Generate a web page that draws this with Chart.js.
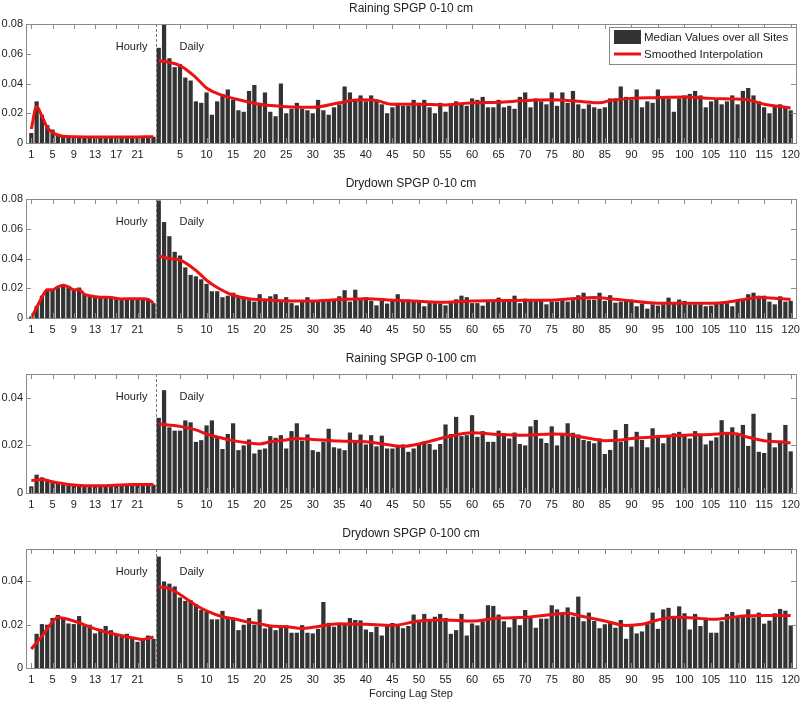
<!DOCTYPE html>
<html>
<head>
<meta charset="utf-8">
<script src="https://cdn.jsdelivr.net/npm/chart.js@4.4.0/dist/chart.umd.min.js"></script>
<style>
body { margin: 0; background: #fff; }
#wrap { position: relative; width: 800px; height: 704px; }
canvas { position: absolute; left: 0; }
</style>
</head>
<body>
<div id="wrap">
  <canvas id="c1" width="800" height="175" style="top:0px"></canvas>
  <canvas id="c2" width="800" height="175" style="top:175px"></canvas>
  <canvas id="c3" width="800" height="175" style="top:350px"></canvas>
  <canvas id="c4" width="800" height="179" style="top:525px"></canvas>
</div>
<script>
// tick labels
const hourTicks = [1, 5, 9, 13, 17, 21];
const dayTicks = [5, 10, 15, 20, 25, 30, 35, 40, 45, 50, 55, 60, 65, 70, 75, 80, 85, 90, 95, 100, 105, 110, 115, 120];
const yTicks08 = [0, 0.02, 0.04, 0.06, 0.08];
const yTicks04 = [0, 0.02, 0.04];

// Raining SPGP 0-10 cm
const rain10Hourly = [0.0067, 0.028, 0.019, 0.012, 0.009, 0.006, 0.0045, 0.0042, 0.004, 0.0042, 0.004, 0.0042,
  0.004, 0.0038, 0.0042, 0.004, 0.0042, 0.004, 0.0038, 0.0042, 0.004, 0.0038, 0.004, 0.0042];
const rain10Daily = [0.064, 0.080, 0.057, 0.051, 0.053, 0.044, 0.042, 0.028, 0.027, 0.034, 0.019, 0.028, 0.033, 0.036, 0.029,
  0.022, 0.021, 0.035, 0.039, 0.027, 0.034, 0.021, 0.018, 0.040, 0.020, 0.023, 0.027, 0.023, 0.022, 0.020,
  0.029, 0.022, 0.019, 0.024, 0.026, 0.038, 0.034, 0.029, 0.032, 0.028, 0.032, 0.029, 0.026, 0.020, 0.024,
  0.027, 0.025, 0.025, 0.029, 0.027, 0.029, 0.024, 0.020, 0.027, 0.021, 0.025, 0.028, 0.027, 0.025, 0.030,
  0.029, 0.031, 0.024, 0.024, 0.029, 0.024, 0.025, 0.023, 0.031, 0.034, 0.024, 0.030, 0.028, 0.026, 0.034,
  0.025, 0.034, 0.027, 0.035, 0.026, 0.023, 0.026, 0.024, 0.023, 0.024, 0.030, 0.030, 0.038, 0.031, 0.029,
  0.036, 0.024, 0.028, 0.027, 0.036, 0.031, 0.030, 0.021, 0.030, 0.032, 0.033, 0.035, 0.032, 0.024, 0.028,
  0.030, 0.026, 0.028, 0.032, 0.026, 0.035, 0.037, 0.032, 0.028, 0.024, 0.020, 0.025, 0.026, 0.024, 0.022];
const rain10SmoothHourSteps = [1, 2, 3, 4, 5, 6, 7, 9, 12, 15, 18, 21, 24];
const rain10SmoothHour = [0.0094, 0.0245, 0.018, 0.0105, 0.007, 0.0054, 0.0045, 0.0042, 0.004, 0.0041, 0.004, 0.0041, 0.0042];
const rain10SmoothDaySteps = [1, 5, 8, 10, 13, 15, 20, 25, 30, 35, 39, 42, 45, 50, 55, 60, 65, 70, 75, 80, 84, 86, 90, 95, 100, 105, 110, 112, 115, 118, 120];
const rain10SmoothDay = [0.0555, 0.052, 0.044, 0.037, 0.032, 0.030, 0.026, 0.0244, 0.024, 0.027, 0.029, 0.0285, 0.026, 0.026, 0.0256, 0.027,
  0.0274, 0.0285, 0.029, 0.028, 0.027, 0.0285, 0.030, 0.0305, 0.031, 0.030, 0.0295, 0.029, 0.026, 0.0245, 0.0236];

// Drydown SPGP 0-10 cm
const dry10Hourly = [0.001, 0.008, 0.015, 0.0195, 0.019, 0.021, 0.022, 0.021, 0.019, 0.0205, 0.016, 0.015,
  0.0146, 0.014, 0.014, 0.0137, 0.0137, 0.0126, 0.0128, 0.013, 0.013, 0.0133, 0.0128, 0.010];
const dry10Daily = [0.079, 0.0645, 0.055, 0.0445, 0.042, 0.034, 0.029, 0.028, 0.026, 0.023, 0.018, 0.018, 0.014, 0.015, 0.017,
  0.0137, 0.0135, 0.012, 0.011, 0.016, 0.012, 0.0146, 0.016, 0.0115, 0.014, 0.010, 0.0085, 0.0115, 0.014, 0.0115,
  0.011, 0.011, 0.0115, 0.0128, 0.0146, 0.0187, 0.011, 0.019, 0.0128, 0.014, 0.0115, 0.0085, 0.0115, 0.0097, 0.0124,
  0.016, 0.0124, 0.0124, 0.011, 0.012, 0.0079, 0.010, 0.010, 0.0097, 0.0085, 0.0115, 0.0126, 0.015, 0.014, 0.010,
  0.010, 0.0083, 0.011, 0.011, 0.0137, 0.0124, 0.011, 0.015, 0.010, 0.013, 0.0115, 0.0115, 0.0115, 0.0092, 0.011,
  0.011, 0.012, 0.011, 0.012, 0.0153, 0.017, 0.0124, 0.0124, 0.017, 0.0115, 0.0153, 0.0103, 0.011, 0.0124, 0.0124,
  0.0079, 0.0097, 0.0063, 0.0092, 0.0083, 0.0092, 0.0137, 0.010, 0.0124, 0.0115, 0.0092, 0.0092, 0.0092, 0.0079, 0.0083,
  0.010, 0.010, 0.010, 0.0079, 0.0115, 0.0128, 0.016, 0.017, 0.015, 0.015, 0.011, 0.0092, 0.0146, 0.011, 0.0115];
const dry10SmoothHourSteps = [1, 2, 3, 4, 5, 6, 7, 8, 9, 10, 11, 12, 14, 16, 18, 20, 22, 23, 24];
const dry10SmoothHour = [0.0, 0.007, 0.014, 0.019, 0.019, 0.021, 0.022, 0.021, 0.019, 0.019, 0.016, 0.015, 0.014, 0.0138, 0.0128, 0.013, 0.013, 0.0125, 0.010];
const dry10SmoothDaySteps = [1, 3, 5, 8, 10, 12, 15, 18, 20, 25, 30, 35, 40, 45, 50, 55, 60, 65, 70, 75, 80, 83, 86, 90, 95, 100, 105, 108, 112, 114, 117, 120];
const dry10SmoothDay = [0.0416, 0.040, 0.039, 0.032, 0.0254, 0.0205, 0.0153, 0.013, 0.0124, 0.0115, 0.0115, 0.0124, 0.013, 0.012, 0.0112, 0.0106,
  0.0115, 0.0117, 0.012, 0.012, 0.0133, 0.0137, 0.013, 0.0115, 0.010, 0.010, 0.010, 0.0106, 0.013, 0.0137, 0.0133, 0.0124];

// Raining SPGP 0-100 cm
const rain100Hourly = [0.0028, 0.0077, 0.0066, 0.0052, 0.0042, 0.0038, 0.0035, 0.0032, 0.003, 0.0028, 0.0028, 0.0028,
  0.0028, 0.0028, 0.003, 0.003, 0.0033, 0.0035, 0.0035, 0.0035, 0.0035, 0.0035, 0.0035, 0.0035];
const rain100Daily = [0.0316, 0.0432, 0.0276, 0.0262, 0.0262, 0.0305, 0.0297, 0.0215, 0.0222, 0.0284, 0.0305, 0.0239, 0.0185, 0.0248, 0.0293,
  0.018, 0.020, 0.0225, 0.0166, 0.0182, 0.0187, 0.0239, 0.0232, 0.0243, 0.0187, 0.026, 0.0293, 0.022, 0.0246, 0.018,
  0.0173, 0.0215, 0.027, 0.0192, 0.0187, 0.018, 0.0254, 0.0218, 0.0246, 0.0204, 0.0243, 0.0196, 0.0241, 0.0187, 0.0187,
  0.0196, 0.0204, 0.0173, 0.0187, 0.0204, 0.0215, 0.0206, 0.0182, 0.0206, 0.0288, 0.0248, 0.032, 0.0239, 0.0243, 0.0327,
  0.0236, 0.026, 0.0215, 0.0215, 0.0262, 0.0251, 0.0229, 0.0254, 0.0206, 0.020, 0.028, 0.0307, 0.0229, 0.021, 0.028,
  0.020, 0.0251, 0.0293, 0.0253, 0.0246, 0.0223, 0.0218, 0.0209, 0.0229, 0.0164, 0.0181, 0.0265, 0.0215, 0.029, 0.0195,
  0.0257, 0.0223, 0.0192, 0.0272, 0.0232, 0.0209, 0.0239, 0.0251, 0.0257, 0.0239, 0.0229, 0.026, 0.0246, 0.0204, 0.022,
  0.0234, 0.0306, 0.0248, 0.0276, 0.0251, 0.0286, 0.0198, 0.0333, 0.0173, 0.0168, 0.0253, 0.0192, 0.0215, 0.0286, 0.0175];
const rain100SmoothHourSteps = [1, 3, 5, 8, 12, 16, 20, 24];
const rain100SmoothHour = [0.0052, 0.0057, 0.0047, 0.0036, 0.003, 0.0032, 0.0036, 0.0036];
const rain100SmoothDaySteps = [1, 5, 8, 10, 13, 15, 18, 20, 22, 25, 27, 30, 35, 40, 45, 47, 50, 55, 60, 65, 70, 75, 78, 80, 83, 85, 88, 90, 95, 100, 105, 108, 110, 112, 115, 118, 120];
const rain100SmoothDay = [0.029, 0.028, 0.0265, 0.0248, 0.023, 0.022, 0.021, 0.0206, 0.0215, 0.0223, 0.0229, 0.0225, 0.0218, 0.0215, 0.020, 0.0196,
  0.0206, 0.0234, 0.0253, 0.0246, 0.0243, 0.0248, 0.0246, 0.0237, 0.0226, 0.022, 0.0223, 0.0229, 0.0237, 0.0243, 0.0246, 0.0251,
  0.0248, 0.0234, 0.022, 0.0215, 0.021];

// Drydown SPGP 0-100 cm
const dry100Hourly = [0.0, 0.0158, 0.0203, 0.020, 0.0231, 0.0245, 0.0233, 0.0206, 0.0203, 0.024, 0.0194, 0.020,
  0.016, 0.0181, 0.0194, 0.0175, 0.0155, 0.0143, 0.0158, 0.014, 0.0121, 0.0132, 0.015, 0.0135];
const dry100Daily = [0.0515, 0.040, 0.039, 0.0377, 0.0326, 0.031, 0.0313, 0.0295, 0.0268, 0.0259, 0.0225, 0.0225, 0.0264, 0.0233, 0.0233,
  0.0175, 0.020, 0.0231, 0.020, 0.0271, 0.0183, 0.019, 0.0175, 0.0194, 0.0197, 0.0163, 0.0163, 0.0198, 0.0163, 0.016,
  0.0181, 0.0305, 0.0209, 0.0191, 0.0206, 0.0206, 0.0231, 0.0222, 0.022, 0.0178, 0.0166, 0.0191, 0.015, 0.0197, 0.0208,
  0.0197, 0.0184, 0.0194, 0.0247, 0.0222, 0.025, 0.0222, 0.0237, 0.025, 0.0231, 0.0158, 0.0175, 0.025, 0.015, 0.0206,
  0.0197, 0.0216, 0.029, 0.0287, 0.0247, 0.0216, 0.0188, 0.0233, 0.0198, 0.0268, 0.0237, 0.0186, 0.0228, 0.0228, 0.029,
  0.0271, 0.0248, 0.028, 0.0237, 0.033, 0.0216, 0.0256, 0.0217, 0.0184, 0.0202, 0.0216, 0.0186, 0.0222, 0.0135, 0.0202,
  0.016, 0.0169, 0.0203, 0.0256, 0.0181, 0.0271, 0.0278, 0.0237, 0.0285, 0.0253, 0.0178, 0.025, 0.0194, 0.0233, 0.0163,
  0.0163, 0.0216, 0.025, 0.0259, 0.0237, 0.0237, 0.0271, 0.0233, 0.0256, 0.0205, 0.0219, 0.0253, 0.0273, 0.0265, 0.0197];
const dry100SmoothHourSteps = [1, 3, 5, 6, 9, 13, 17, 21, 22, 24];
const dry100SmoothHour = [0.0088, 0.0147, 0.0214, 0.0233, 0.0217, 0.0181, 0.0155, 0.0135, 0.0132, 0.0144];
const dry100SmoothDaySteps = [1, 3, 5, 8, 10, 13, 15, 18, 20, 22, 25, 28, 30, 35, 40, 45, 50, 55, 60, 65, 70, 75, 78, 80, 85, 89, 92, 95, 98, 102, 105, 108, 111, 115, 118, 120];
const dry100SmoothDay = [0.0375, 0.0367, 0.034, 0.029, 0.0264, 0.0237, 0.0228, 0.0212, 0.0205, 0.0194, 0.0191, 0.0183, 0.0188, 0.0205, 0.0202, 0.0197,
  0.0217, 0.0222, 0.0217, 0.0231, 0.0234, 0.0247, 0.0253, 0.0243, 0.0217, 0.0197, 0.0202, 0.0222, 0.0234, 0.0231, 0.0225, 0.0231,
  0.024, 0.0243, 0.0243, 0.0243];

const HOURS = 24;
const BAR_COLOR = '#333333';
const RED = 'rgb(236, 18, 18)';
const AXIS_COLOR = '#8a8a8a';
const TEXT_COLOR = '#222';

Chart.defaults.font.family = '"Liberation Sans", Arial, Helvetica, sans-serif';
Chart.defaults.color = TEXT_COLOR;

// box, inward ticks, hourly/daily divider, title and legend
const framePlugin = {
  id: 'frame',
  afterDraw(chart, args, opts) {
    const ctx = chart.ctx;
    const a = chart.chartArea;
    const xs = chart.scales.x, ys = chart.scales.y;
    ctx.save();

    // divider between hourly and daily steps
    const sx = Math.round(xs.getPixelForValue(HOURS + 0.4)) + 0.5;
    ctx.strokeStyle = '#777';
    ctx.lineWidth = 1;
    ctx.setLineDash([3, 2]);
    ctx.beginPath();
    ctx.moveTo(sx, a.top);
    ctx.lineTo(sx, a.bottom);
    ctx.stroke();
    ctx.setLineDash([]);

    // box
    ctx.strokeStyle = AXIS_COLOR;
    ctx.strokeRect(Math.round(a.left) + 0.5, Math.round(a.top) + 0.5, Math.round(a.right - a.left), Math.round(a.bottom - a.top));

    // inward ticks
    ctx.beginPath();
    xs.ticks.forEach(t => {
      const px = Math.round(xs.getPixelForValue(t.value)) + 0.5;
      ctx.moveTo(px, a.bottom); ctx.lineTo(px, a.bottom - 5);
      ctx.moveTo(px, a.top); ctx.lineTo(px, a.top + 5);
    });
    ys.ticks.forEach(t => {
      const py = Math.round(ys.getPixelForValue(t.value)) + 0.5;
      ctx.moveTo(a.left, py); ctx.lineTo(a.left + 5, py);
      ctx.moveTo(a.right, py); ctx.lineTo(a.right - 5, py);
    });
    ctx.stroke();

    // labels
    ctx.fillStyle = TEXT_COLOR;
    ctx.font = '11px "Liberation Sans", Arial, sans-serif';
    ctx.textBaseline = 'middle';
    ctx.textAlign = 'right';
    ctx.fillText('Hourly', sx - 9, a.top + 23);
    ctx.textAlign = 'left';
    ctx.fillText('Daily', sx + 23, a.top + 23);

    ctx.font = '12px "Liberation Sans", Arial, sans-serif';
    ctx.textAlign = 'center';
    ctx.fillText(opts.title, (a.left + a.right) / 2, 9);

    if (opts.legend) {
      const lx = 609, ly = a.top + 3, lw = 187, lh = 37;
      ctx.fillStyle = '#fff';
      ctx.fillRect(lx, ly, lw, lh);
      ctx.strokeStyle = AXIS_COLOR;
      ctx.strokeRect(lx + 0.5, ly + 0.5, lw, lh);
      ctx.fillStyle = BAR_COLOR;
      ctx.fillRect(lx + 5, ly + 3, 27, 14);
      ctx.strokeStyle = RED;
      ctx.lineWidth = 3;
      ctx.beginPath();
      ctx.moveTo(lx + 5, ly + 27);
      ctx.lineTo(lx + 32, ly + 27);
      ctx.stroke();
      ctx.fillStyle = TEXT_COLOR;
      ctx.font = '11.5px "Liberation Sans", Arial, sans-serif';
      ctx.textAlign = 'left';
      ctx.fillText('Median Values over all Sites', lx + 35, ly + 11);
      ctx.fillText('Smoothed Interpolation', lx + 35, ly + 28);
    }
    ctx.restore();
  }
};

function makePanel(id, p) {
  const bars = p.hourly.map((v, i) => ({ x: i + 1, y: v }))
    .concat(p.daily.map((v, i) => ({ x: HOURS + i + 1, y: v })));
  const lineHour = p.smoothHourSteps.map((s, i) => ({ x: s, y: p.smoothHour[i] }));
  const lineDay = p.smoothDaySteps.map((s, i) => ({ x: HOURS + s, y: p.smoothDay[i] }));
  const lineStyle = {
    type: 'line', borderColor: RED, borderWidth: 3, pointRadius: 0,
    cubicInterpolationMode: 'monotone', order: 0, clip: 0
  };

  new Chart(document.getElementById(id), {
    type: 'bar',
    data: {
      datasets: [
        Object.assign({ label: 'Smoothed Interpolation', data: lineHour }, lineStyle),
        Object.assign({ label: 'Smoothed Interpolation', data: lineDay }, lineStyle),
        { label: 'Median Values over all Sites', data: bars, backgroundColor: BAR_COLOR,
          barPercentage: 0.8, categoryPercentage: 1, order: 1, clip: 0 }
      ]
    },
    options: {
      responsive: false,
      devicePixelRatio: 1,
      animation: false,
      layout: { padding: { top: 24, right: 4, left: 0, bottom: 0 } },
      plugins: {
        legend: { display: false },
        tooltip: { enabled: false },
        frame: { title: p.title, legend: p.legend }
      },
      scales: {
        x: {
          type: 'linear', min: 0, max: 145, offset: false,
          grid: { display: false, drawTicks: false, offset: false }, border: { display: false },
          afterBuildTicks: s => {
            s.ticks = hourTicks.map(v => ({ value: v })).concat(dayTicks.map(v => ({ value: HOURS + v })));
          },
          afterFit: s => { s.height = p.xTitle ? 36 : 32; s.paddingLeft = 0; s.paddingRight = 0; },
          ticks: {
            autoSkip: false, maxRotation: 0, minRotation: 0, padding: 5,
            font: { size: 11 }, color: TEXT_COLOR,
            callback: v => String(v > HOURS ? v - HOURS : v)
          },
          title: { display: !!p.xTitle, text: p.xTitle || '', font: { size: 11 }, color: TEXT_COLOR, padding: { top: 0, bottom: 3 } }
        },
        y: {
          min: 0, max: p.ymax,
          grid: { display: false, drawTicks: false }, border: { display: false },
          afterBuildTicks: s => { s.ticks = p.yTicks.map(v => ({ value: v })); },
          afterFit: s => { s.width = 26; s.paddingTop = 0; s.paddingBottom = 0; },
          ticks: {
            padding: 3, font: { size: 11 }, color: TEXT_COLOR,
            callback: v => v === 0 ? '0' : v.toFixed(2)
          }
        }
      }
    },
    plugins: [framePlugin]
  });
}

makePanel('c1', {
  title: 'Raining SPGP 0-10 cm', ymax: 0.08, yTicks: yTicks08, legend: true,
  hourly: rain10Hourly, daily: rain10Daily,
  smoothHourSteps: rain10SmoothHourSteps, smoothHour: rain10SmoothHour,
  smoothDaySteps: rain10SmoothDaySteps, smoothDay: rain10SmoothDay
});
makePanel('c2', {
  title: 'Drydown SPGP 0-10 cm', ymax: 0.08, yTicks: yTicks08,
  hourly: dry10Hourly, daily: dry10Daily,
  smoothHourSteps: dry10SmoothHourSteps, smoothHour: dry10SmoothHour,
  smoothDaySteps: dry10SmoothDaySteps, smoothDay: dry10SmoothDay
});
makePanel('c3', {
  title: 'Raining SPGP 0-100 cm', ymax: 0.05, yTicks: yTicks04,
  hourly: rain100Hourly, daily: rain100Daily,
  smoothHourSteps: rain100SmoothHourSteps, smoothHour: rain100SmoothHour,
  smoothDaySteps: rain100SmoothDaySteps, smoothDay: rain100SmoothDay
});
makePanel('c4', {
  title: 'Drydown SPGP 0-100 cm', ymax: 0.055, yTicks: yTicks04, xTitle: 'Forcing Lag Step',
  hourly: dry100Hourly, daily: dry100Daily,
  smoothHourSteps: dry100SmoothHourSteps, smoothHour: dry100SmoothHour,
  smoothDaySteps: dry100SmoothDaySteps, smoothDay: dry100SmoothDay
});
</script>
</body>
</html>
